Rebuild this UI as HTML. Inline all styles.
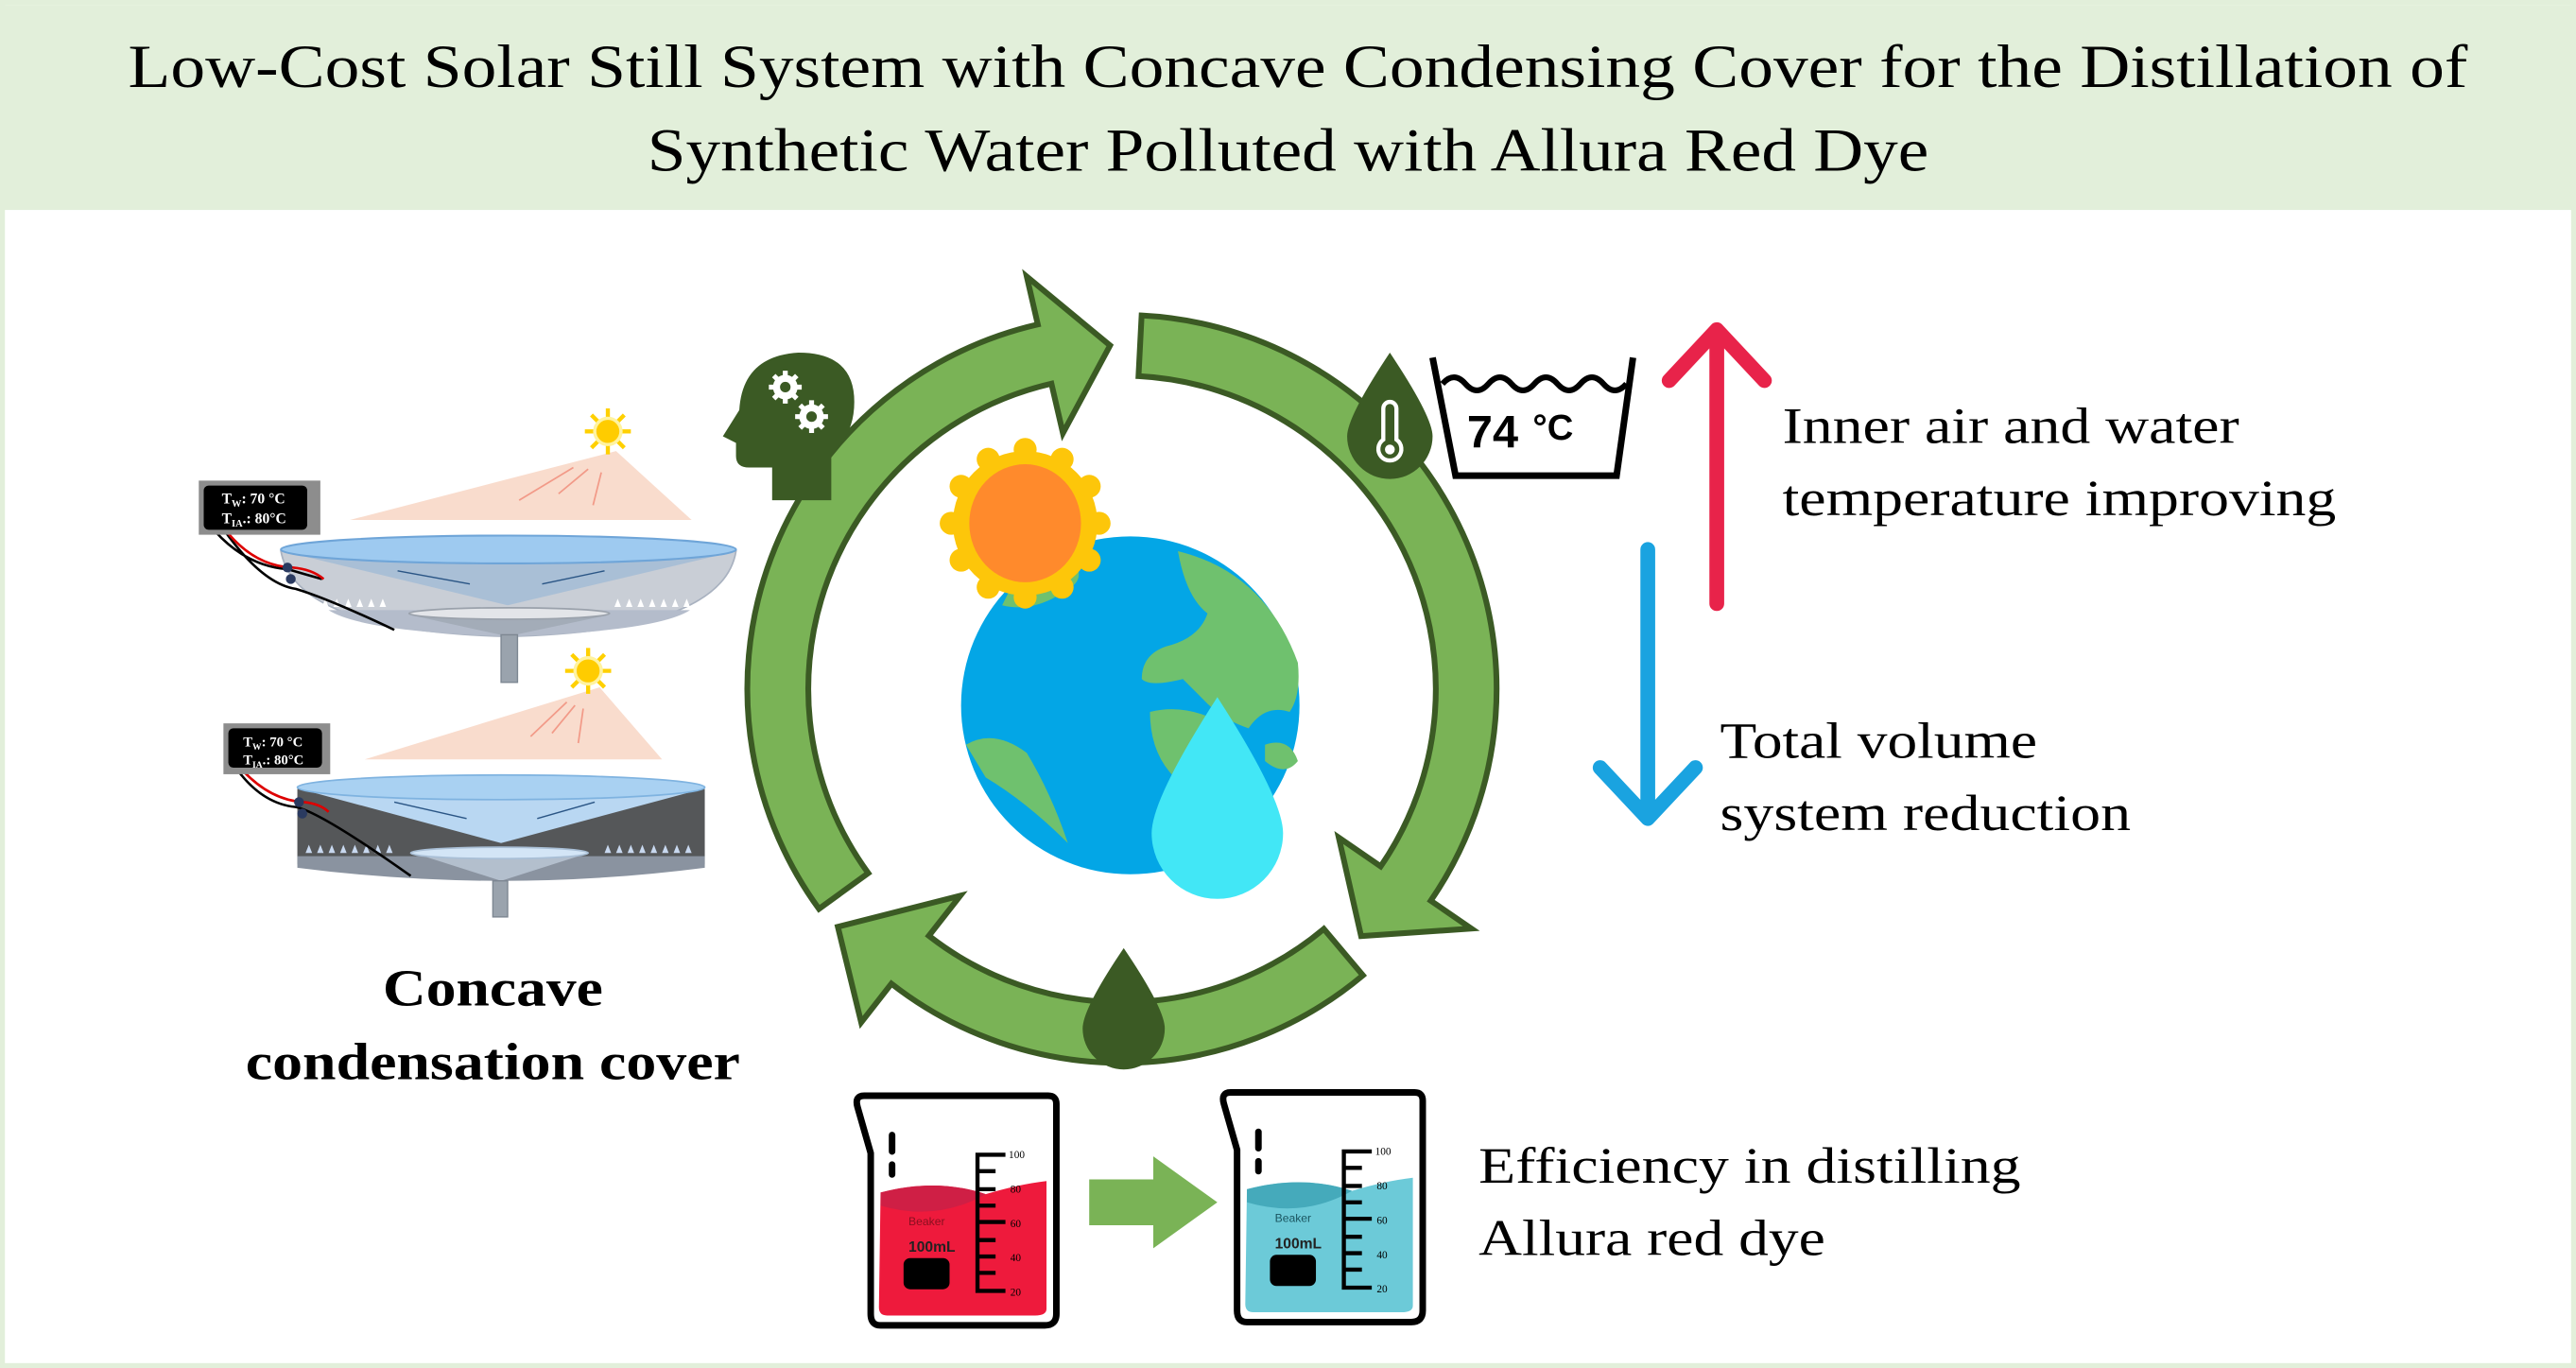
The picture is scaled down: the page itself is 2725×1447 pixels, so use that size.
<!DOCTYPE html>
<html><head><meta charset="utf-8"><style>
html,body{margin:0;padding:0;background:#fff;}
svg{display:block;}
text{font-family:"Liberation Serif",serif;}
</style></head><body>
<svg width="2725" height="1447" viewBox="0 0 1568 834" preserveAspectRatio="none" xmlns="http://www.w3.org/2000/svg">
<rect x="0" y="0" width="1568" height="834" fill="#fff"/>
<rect x="1.5" y="1.5" width="1565" height="831" fill="none" stroke="#e2efda" stroke-width="3"/>
<rect x="2" y="3" width="1564" height="125" fill="#e2efda"/>
<text x="790" y="53" font-size="37" text-anchor="middle" textLength="1424" lengthAdjust="spacingAndGlyphs">Low-Cost Solar Still System with Concave Condensing Cover for the Distillation of</text>
<text x="784" y="104" font-size="37" text-anchor="middle" textLength="780" lengthAdjust="spacingAndGlyphs">Synthetic Water Polluted with Allura Red Dye</text>

<!-- cycle arrows -->
<g fill="#7ab356" stroke="#3b5a24" stroke-width="3.5" stroke-linejoin="miter">
<path d="M498.5 554.1 A228 228 0 0 1 631.7 197.8 L625 168.6 L675.7 210.6 L647 264.1 L640 233.9 A191 191 0 0 0 528.5 532.3 Z"/>
<path d="M694.9 192.3 A228 228 0 0 1 870.9 549.1 L895.6 566.1 L828.5 570.7 L814.9 510.6 L840.4 528.2 A191 191 0 0 0 693 229.3 Z"/>
<path d="M829.6 594.6 A228 228 0 0 1 542.6 599.7 L524.2 623.3 L510 565 L584.5 546.1 L565.4 570.5 A191 191 0 0 0 805.8 566.3 Z"/>
</g>
<!-- drops -->
<path d="M846 215 Q872 254 872 266 A26 26 0 0 1 820 266 Q820 254 846 215 Z" fill="#3b5a24"/>
<path d="M842 268 L842 249 A4 4 0 0 1 850 249 L850 268 A7 7 0 1 1 842 268 Z" fill="none" stroke="#fff" stroke-width="2.5"/>
<circle cx="846" cy="274" r="3" fill="#fff"/>
<path d="M684 578 Q709 615 709 627 A25 25 0 0 1 659 627 Q659 615 684 578 Z" fill="#3b5a24"/>

<!-- head icon -->
<path d="M470 305 L470 285 L456 285 Q448 285 448 278 L448 270 L440 266 L450 250 Q452 217 486 215 Q520 215 520 245 Q520 265 506 276 L506 305 Z" fill="#3b5a24"/>
<g fill="#fff">
<circle cx="478" cy="236" r="7.5"/><circle cx="494" cy="254" r="7.5"/>
<g stroke="#fff" stroke-width="3"><path d="M478 226 V246 M468 236 H488 M471 229 L485 243 M485 229 L471 243"/><path d="M494 244 V264 M484 254 H504 M487 247 L501 261 M501 247 L487 261"/></g>
</g>
<circle cx="478" cy="236" r="3.2" fill="#3b5a24"/><circle cx="494" cy="254" r="3.2" fill="#3b5a24"/>

<!-- earth -->
<g transform="translate(0 -26)">
<circle cx="688" cy="456" r="103" fill="#03a6e6"/>
<g fill="#6fc16e">
<path d="M717 362 Q770 375 790 430 Q792 450 785 460 Q770 455 760 470 Q745 465 735 455 Q725 445 720 440 Q700 445 695 440 Q695 425 710 420 Q730 415 735 400 Q722 390 717 362 Z"/>
<path d="M700 460 Q720 455 740 465 Q760 480 755 500 Q745 520 735 515 Q725 505 715 500 Q700 485 700 460 Z"/>
<path d="M588 480 Q605 470 625 485 Q640 510 650 540 Q625 515 600 500 Z"/>
<path d="M610 395 Q630 400 650 385 Q660 380 655 370 Q640 362 620 375 Z"/>
<path d="M770 480 Q785 475 790 490 Q782 500 770 490 Z"/>
</g>
</g>
<path d="M741 425 Q781 487 781 508 A40 40 0 0 1 701 508 Q701 487 741 425 Z" fill="#42e7f6"/>
<!-- sun -->
<g transform="translate(0 -18)">
<g fill="#fdc60a">
<circle cx="624" cy="337" r="44"/>
<g transform="translate(624 337)">
<circle cx="0" cy="-45" r="7"/><circle cx="22.5" cy="-39" r="7"/><circle cx="39" cy="-22.5" r="7"/><circle cx="45" cy="0" r="7"/><circle cx="39" cy="22.5" r="7"/><circle cx="22.5" cy="39" r="7"/><circle cx="0" cy="45" r="7"/><circle cx="-22.5" cy="39" r="7"/><circle cx="-39" cy="22.5" r="7"/><circle cx="-45" cy="0" r="7"/><circle cx="-39" cy="-22.5" r="7"/><circle cx="-22.5" cy="-39" r="7"/>
</g></g>
<ellipse cx="624" cy="337" rx="34" ry="36" fill="#ff8a2c"/>
</g>

<!-- basin -->
<path d="M872 218 L886 290 L984 290 L994 218" fill="none" stroke="#000" stroke-width="4"/>
<path d="M878 234 q7 -8 14 0 t14 0 t14 0 t14 0 t14 0 t14 0 t14 0 t14 0" fill="none" stroke="#000" stroke-width="3.5"/>
<text x="893" y="273" font-weight="bold" font-size="28" style="font-family:'Liberation Sans',sans-serif">74</text>
<text x="933" y="268" font-weight="bold" font-size="22" style="font-family:'Liberation Sans',sans-serif">°C</text>

<!-- right arrows -->
<g fill="none" stroke-linecap="round" stroke-linejoin="round" stroke-width="9">
<path d="M1045 368 V203 M1016 232 L1045 201 L1074 232" stroke="#e8234a"/>
<path d="M1003 335 V498 M974 468 L1003 499 L1032 468" stroke="#1aa3e0"/>
</g>
<g font-size="31" fill="#000">
<text x="1085" y="270" textLength="278" lengthAdjust="spacingAndGlyphs">Inner air and water</text>
<text x="1085" y="314" textLength="337" lengthAdjust="spacingAndGlyphs">temperature improving</text>
<text x="1047" y="462" textLength="193" lengthAdjust="spacingAndGlyphs">Total volume</text>
<text x="1047" y="506" textLength="250" lengthAdjust="spacingAndGlyphs">system reduction</text>
<text x="900" y="721" textLength="330" lengthAdjust="spacingAndGlyphs">Efficiency in distilling</text>
<text x="900" y="765" textLength="211" lengthAdjust="spacingAndGlyphs">Allura red dye</text>
</g>
<g font-size="32" font-weight="bold" text-anchor="middle">
<text x="300" y="613" textLength="134" lengthAdjust="spacingAndGlyphs">Concave</text>
<text x="300" y="658" textLength="301" lengthAdjust="spacingAndGlyphs">condensation cover</text>
</g>

<!-- beakers -->
<g id="b1">
<path d="M536 727 Q570 718 600 728 Q620 722 637 720 L637 798 Q637 802 630 802 L540 802 Q535 802 535 797 Z" fill="#ee1a3c"/>
<path d="M536 727 Q570 718 600 728 Q570 745 536 735 Z" fill="#cf1f45"/>
<path d="M526 668 L638 668 Q643 668 643 673 L643 801 Q643 808 636 808 L536 808 Q530 808 530 801 L530 703 L522 675 Q520 668 526 668 Z" fill="none" stroke="#000" stroke-width="4" stroke-linejoin="round"/>
<path d="M543 692 V702 M543 710 V716" stroke="#000" stroke-width="4" stroke-linecap="round"/>
<path d="M612 704 H595 V787 H612 M595 725 H606 M595 745 H612 M595 766 H606 M595 756 H606 M595 735 H606 M595 776 H606 M595 714 H606" fill="none" stroke="#000" stroke-width="2.5"/>
<g font-size="6.5" style="font-family:'Liberation Sans',sans-serif"><text x="614" y="706">100</text><text x="615" y="727">80</text><text x="615" y="748">60</text><text x="615" y="769">40</text><text x="615" y="790">20</text></g>
<text x="553" y="747" font-size="7" fill="#8a1020" style="font-family:'Liberation Sans',sans-serif">Beaker</text>
<text x="553" y="763" font-size="9" font-weight="bold" fill="#222" style="font-family:'Liberation Sans',sans-serif">100mL</text>
<rect x="550" y="767" width="28" height="19" rx="4" fill="#000"/>
</g>
<g transform="translate(223 -2)">
<path d="M536 727 Q570 718 600 728 Q620 722 637 720 L637 798 Q637 802 630 802 L540 802 Q535 802 535 797 Z" fill="#6ccad8"/>
<path d="M536 727 Q570 718 600 728 Q570 745 536 735 Z" fill="#45aabb"/>
<path d="M526 668 L638 668 Q643 668 643 673 L643 801 Q643 808 636 808 L536 808 Q530 808 530 801 L530 703 L522 675 Q520 668 526 668 Z" fill="none" stroke="#000" stroke-width="4" stroke-linejoin="round"/>
<path d="M543 692 V702 M543 710 V716" stroke="#000" stroke-width="4" stroke-linecap="round"/>
<path d="M612 704 H595 V787 H612 M595 725 H606 M595 745 H612 M595 766 H606 M595 756 H606 M595 735 H606 M595 776 H606 M595 714 H606" fill="none" stroke="#000" stroke-width="2.5"/>
<g font-size="6.5" style="font-family:'Liberation Sans',sans-serif"><text x="614" y="706">100</text><text x="615" y="727">80</text><text x="615" y="748">60</text><text x="615" y="769">40</text><text x="615" y="790">20</text></g>
<text x="553" y="747" font-size="7" fill="#1a5560" style="font-family:'Liberation Sans',sans-serif">Beaker</text>
<text x="553" y="763" font-size="9" font-weight="bold" fill="#222" style="font-family:'Liberation Sans',sans-serif">100mL</text>
<rect x="550" y="767" width="28" height="19" rx="4" fill="#000"/>
</g>
<path d="M663 719 H702 V705 L741 733 L702 761 V747 H663 Z" fill="#7ab356"/>

<!-- top still -->
<path d="M213 317 L421 317 L375 275 Z" fill="#f9dccd"/>
<g stroke="#f29a88" stroke-width="1" fill="none"><path d="M349 285 L316 305 M358 286 L340 301 M366 288 L361 308"/></g>
<g stroke="#ffd000" stroke-width="2.5"><path d="M370 249 V256 M370 270 V277 M356 263 H363 M377 263 H384 M360 253 L365 258 M375 268 L380 273 M380 253 L375 258 M360 273 L365 268"/></g>
<circle cx="370" cy="263" r="8" fill="#ffcc00" stroke="#fff3a0" stroke-width="2"/>
<path d="M171 336 L448 336 Q440 385 309 388 Q180 385 171 336 Z" fill="#c9ced6" stroke="#a9b2c0"/>
<path d="M200 372 L420 372 Q400 385 309 388 Q220 385 200 372 Z" fill="#b4bccb"/>
<path d="M176 337 L444 337 L309 369 Z" fill="#a9bfd6"/>
<ellipse cx="309.5" cy="335" rx="138.5" ry="8.5" fill="#9ecaf0" stroke="#6fa5d8" stroke-width="1.2"/>
<path d="M250 375 L370 375 L309 388 Z" fill="#a3acb8"/>
<ellipse cx="310" cy="374" rx="61" ry="3.5" fill="#e3e5e9" stroke="#9aa1ab"/>
<rect x="305" y="387" width="10" height="29" fill="#9aa3ad" stroke="#7d8792" stroke-width="0.8"/>
<g fill="#fff"><path d="M196 370 l2-5 l2 5Z M203 370 l2-5 l2 5Z M210 370 l2-5 l2 5Z M217 370 l2-5 l2 5Z M224 370 l2-5 l2 5Z M231 370 l2-5 l2 5Z M374 370 l2-5 l2 5Z M381 370 l2-5 l2 5Z M388 370 l2-5 l2 5Z M395 370 l2-5 l2 5Z M402 370 l2-5 l2 5Z M409 370 l2-5 l2 5Z M416 370 l2-5 l2 5Z"/></g>
<g stroke="#2a5585" stroke-width="0.8"><path d="M242 348 L286 356 M368 348 L330 356"/></g>
<path d="M131 324 Q150 345 175 347 Q185 350 196 353 M137 324 Q160 356 180 359 Q200 365 240 384" fill="none" stroke="#000" stroke-width="1.5"/>
<path d="M138 324 Q155 345 178 346 Q190 347 197 353" fill="none" stroke="#d00" stroke-width="1.5"/>
<circle cx="175" cy="346" r="3" fill="#2a3a60"/><circle cx="177" cy="353" r="3" fill="#2a3a60"/>
<rect x="121" y="293" width="74" height="33" fill="#8d8d8d"/>
<rect x="124" y="296" width="63" height="27" rx="3" fill="#000"/>
<g fill="#fff" font-size="9" font-weight="bold"><text x="135" y="307">T<tspan font-size="6" dy="2">W</tspan><tspan dy="-2">: 70 °C</tspan></text><text x="135" y="319">T<tspan font-size="6" dy="2">IA</tspan><tspan dy="-2">.: 80°C</tspan></text></g>

<!-- bottom still -->
<path d="M222 463 L403 463 L365 419 Z" fill="#f9dccd"/>
<g stroke="#f29a88" stroke-width="1" fill="none"><path d="M345 428 L323 449 M350 430 L336 447 M355 432 L352 453"/></g>
<g stroke="#ffd000" stroke-width="2.5"><path d="M358 395 V402 M358 416 V423 M344 409 H351 M365 409 H372 M348 399 L353 404 M363 414 L368 419 M368 399 L363 404 M348 419 L353 414"/></g>
<circle cx="358" cy="409" r="8" fill="#ffcc00" stroke="#fff3a0" stroke-width="2"/>
<path d="M181 481 L181 527 Q305 545 429 527 L429 481 Z" fill="#555759"/>
<path d="M181 522 L429 522 L429 529 Q305 545 181 529 Z" fill="#8a93a0"/>
<path d="M190 483 L420 483 L305 514 Z" fill="#b9d7f2"/>
<ellipse cx="305" cy="480" rx="124" ry="7.5" fill="#a9d1f2" stroke="#7fb3e0"/>
<path d="M255 521 L355 521 L305 537 Z" fill="#b3bfcd"/>
<ellipse cx="304" cy="520" rx="54" ry="3.5" fill="#d3e5f6" stroke="#a9bfd6"/>
<rect x="300" y="537" width="9" height="22" fill="#9aa3ad" stroke="#7d8792" stroke-width="0.8"/>
<g fill="#c8d8ef"><path d="M186 520 l2-5 l2 5Z M193 520 l2-5 l2 5Z M200 520 l2-5 l2 5Z M207 520 l2-5 l2 5Z M214 520 l2-5 l2 5Z M221 520 l2-5 l2 5Z M228 520 l2-5 l2 5Z M235 520 l2-5 l2 5Z M368 520 l2-5 l2 5Z M375 520 l2-5 l2 5Z M382 520 l2-5 l2 5Z M389 520 l2-5 l2 5Z M396 520 l2-5 l2 5Z M403 520 l2-5 l2 5Z M410 520 l2-5 l2 5Z M417 520 l2-5 l2 5Z"/></g>
<g stroke="#2a5585" stroke-width="0.8"><path d="M240 489 L284 499 M362 489 L327 499"/></g>
<path d="M145 470 Q160 490 180 492 Q195 495 250 534" fill="none" stroke="#000" stroke-width="1.5"/>
<path d="M148 470 Q165 488 185 489 Q195 490 200 495" fill="none" stroke="#d00" stroke-width="1.5"/>
<circle cx="182" cy="489" r="3" fill="#2a3a60"/><circle cx="184" cy="496" r="3" fill="#2a3a60"/>
<rect x="136" y="441" width="65" height="31" fill="#8d8d8d"/>
<rect x="139" y="444" width="57" height="24" rx="3" fill="#000"/>
<g fill="#fff" font-size="8.5" font-weight="bold"><text x="148" y="455">T<tspan font-size="5.5" dy="2">W</tspan><tspan dy="-2">: 70 °C</tspan></text><text x="148" y="466">T<tspan font-size="5.5" dy="2">IA</tspan><tspan dy="-2">.: 80°C</tspan></text></g>
</svg>
</body></html>
